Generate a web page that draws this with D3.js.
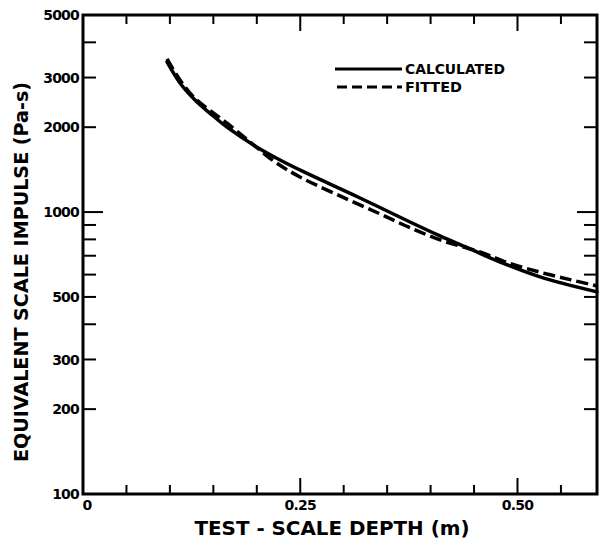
<!DOCTYPE html>
<html>
<head>
<meta charset="utf-8">
<script src="https://cdn.jsdelivr.net/npm/d3@7"></script>
<style>
  html, body { margin: 0; padding: 0; background: #fff; }
  svg { display: block; }
  text { font-family: "DejaVu Sans", sans-serif; font-weight: bold; fill: #000; }
</style>
</head>
<body>
<svg id="chart" width="601" height="543"></svg>
<script>
// ---- data ----
const calcDepth = [0.0967, 0.1116, 0.1289, 0.1484, 0.1669, 0.1979, 0.2267, 0.2555, 0.3188, 0.3763, 0.4108, 0.4453, 0.4799, 0.5259, 0.5915];
const calcImpulse = [3408, 2871, 2499, 2211, 1988, 1716, 1530, 1382, 1122, 922, 823, 740, 665, 589, 521];

const fitDepth = [0.0967, 0.1116, 0.1289, 0.1484, 0.1669, 0.1922, 0.2209, 0.2497, 0.2957, 0.3418, 0.3763, 0.4143, 0.4568, 0.4914, 0.5259, 0.5604, 0.5915];
const fitImpulse = [3492, 2942, 2530, 2265, 2054, 1773, 1506, 1332, 1141, 985, 880, 790, 722, 657, 612, 576, 547];

const yLabelTicks = [100, 200, 300, 500, 1000, 2000, 3000, 5000];
const yLabelTexts = ["100", "200", "300", "500", "1000", "2000", "3000", "5000"];
const yMinorTicks = [200, 300, 400, 500, 600, 700, 800, 900, 2000, 3000, 4000];
const yLongTicks = [1000];
const xTickValues = [0.05, 0.10, 0.15, 0.20, 0.30, 0.35, 0.40, 0.45, 0.55];
const xLongTicks = [0.25, 0.50];
const xLabelValues = [0, 0.25, 0.50];
const xLabelTexts = ["0", "0.25", "0.50"];
const seriesNames = ["CALCULATED", "FITTED"];

// ---- layout ----
const L = 83, R = 597, T = 15, B = 494;
const svg = d3.select("#chart");
const x = d3.scaleLinear().domain([0, 0.5915]).range([L, R]);
const y = d3.scaleLog().domain([100, 5000]).range([B, T]);

// frame
svg.append("rect").attr("x", L).attr("y", T).attr("width", R - L).attr("height", B - T)
  .attr("fill", "none").attr("stroke", "#000").attr("stroke-width", 3);

// y ticks (left and right, inward)
function yTicks(vals, len) {
  svg.selectAll(null).data(vals).enter().append("line")
    .attr("x1", L).attr("x2", L + len).attr("y1", d => y(d)).attr("y2", d => y(d))
    .attr("stroke", "#000").attr("stroke-width", 2);
  svg.selectAll(null).data(vals).enter().append("line")
    .attr("x1", R).attr("x2", R - len).attr("y1", d => y(d)).attr("y2", d => y(d))
    .attr("stroke", "#000").attr("stroke-width", 2);
}
yTicks(yMinorTicks, 13);
yTicks(yLongTicks, 20);

// x ticks (bottom and top, inward)
function xTicks(vals, len) {
  svg.selectAll(null).data(vals).enter().append("line")
    .attr("x1", d => x(d)).attr("x2", d => x(d)).attr("y1", B).attr("y2", B - len)
    .attr("stroke", "#000").attr("stroke-width", 2);
  svg.selectAll(null).data(vals).enter().append("line")
    .attr("x1", d => x(d)).attr("x2", d => x(d)).attr("y1", T).attr("y2", T + len)
    .attr("stroke", "#000").attr("stroke-width", 2);
}
xTicks(xTickValues, 9);
xTicks(xLongTicks, 16);

// y tick labels
svg.selectAll(null).data(yLabelTicks).enter().append("text")
  .attr("x", L - 4).attr("y", d => y(d)).attr("dy", "0.36em")
  .attr("text-anchor", "end").attr("font-size", 14).attr("letter-spacing", -0.8)
  .text((d, i) => yLabelTexts[i]);

// x tick labels
svg.selectAll(null).data(xLabelValues).enter().append("text")
  .attr("x", (d, i) => x(d) + (i === 0 ? 4 : 0)).attr("y", B + 16)
  .attr("text-anchor", "middle").attr("font-size", 14).attr("letter-spacing", -0.8)
  .text((d, i) => xLabelTexts[i]);

// axis titles
svg.append("text").attr("x", 332).attr("y", 535).attr("text-anchor", "middle")
  .attr("font-size", 20).attr("textLength", 275).attr("lengthAdjust", "spacingAndGlyphs")
  .text("TEST - SCALE DEPTH (m)");
svg.append("text").attr("transform", "translate(28,272) rotate(-90)").attr("text-anchor", "middle")
  .attr("font-size", 20).attr("textLength", 380).attr("lengthAdjust", "spacingAndGlyphs")
  .text("EQUIVALENT SCALE IMPULSE (Pa-s)");

// curves
const line = d3.line().x(d => x(d[0])).y(d => y(d[1])).curve(d3.curveCatmullRom.alpha(0.5));
const calc = calcDepth.map((d, i) => [d, calcImpulse[i]]);
const fit = fitDepth.map((d, i) => [d, fitImpulse[i]]);
svg.append("path").datum(calc).attr("d", line).attr("fill", "none")
  .attr("stroke", "#000").attr("stroke-width", 3.5).attr("stroke-linecap", "round");
svg.append("path").datum(fit).attr("d", line).attr("fill", "none")
  .attr("stroke", "#000").attr("stroke-width", 3.5).attr("stroke-dasharray", "12,5");

// legend
svg.append("line").attr("x1", 335).attr("x2", 402).attr("y1", 69).attr("y2", 69)
  .attr("stroke", "#000").attr("stroke-width", 3);
svg.append("line").attr("x1", 337).attr("x2", 402).attr("y1", 87).attr("y2", 87)
  .attr("stroke", "#000").attr("stroke-width", 3).attr("stroke-dasharray", "10,5");
svg.append("text").attr("x", 405).attr("y", 74).attr("font-size", 14)
  .attr("textLength", 100).attr("lengthAdjust", "spacingAndGlyphs").text(seriesNames[0]);
svg.append("text").attr("x", 405).attr("y", 92).attr("font-size", 14)
  .attr("textLength", 57).attr("lengthAdjust", "spacingAndGlyphs").text(seriesNames[1]);
</script>
</body>
</html>
